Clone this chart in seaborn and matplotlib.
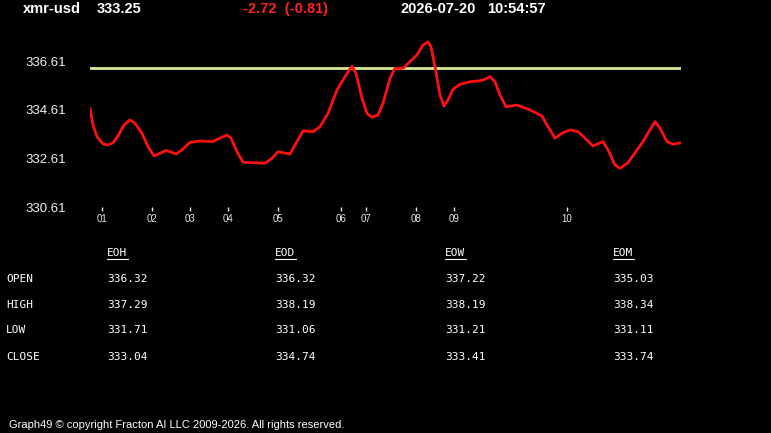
import pandas as pd
import matplotlib.pyplot as plt
import seaborn as sns
from matplotlib.lines import Line2D

# price trace (minutes since start, price)
minutes = [0, 3, 7, 13, 18, 23, 28, 34, 40, 45, 52, 58, 64, 70, 76, 81, 86, 92, 100, 110,
           123, 130, 137, 141, 147, 153, 163, 175, 182, 188, 193, 200, 207, 213, 223, 230,
           238, 247, 255, 262, 266, 272, 277, 282, 288, 293, 300, 305, 313, 327, 333, 338,
           341, 345, 350, 354, 358, 363, 370, 380, 390, 395, 400, 405, 410, 416, 427, 440,
           452, 458, 465, 472, 480, 488, 495, 503, 513, 518, 525, 530, 538, 553, 565, 570,
           577, 583, 591]
prices = [334.67, 333.98, 333.50, 333.20, 333.16, 333.25, 333.53, 333.98, 334.19, 334.05,
          333.64, 333.09, 332.71, 332.82, 332.93, 332.87, 332.79, 332.96, 333.27, 333.32,
          333.30, 333.44, 333.57, 333.44, 332.88, 332.45, 332.43, 332.41, 332.61, 332.88,
          332.84, 332.79, 333.30, 333.74, 333.71, 333.91, 334.46, 335.42, 335.97, 336.40,
          336.10, 335.08, 334.46, 334.30, 334.39, 334.87, 335.90, 336.31, 336.31, 336.86,
          337.27, 337.40, 337.20, 336.38, 335.21, 334.76, 335.01, 335.45, 335.65, 335.76,
          335.80, 335.86, 335.97, 335.76, 335.21, 334.73, 334.80, 334.60, 334.35, 333.91,
          333.44, 333.64, 333.78, 333.71, 333.44, 333.12, 333.30, 332.96, 332.34, 332.20,
          332.43, 333.30, 334.12, 333.85, 333.30, 333.19, 333.25]
open_level = 336.32

tick_pos = [12, 62, 100, 138, 188, 251, 276, 326, 364, 477]
tick_labels = ['01', '02', '03', '04', '05', '06', '07', '08', '09', '10']
y_ticks = [330.61, 332.61, 334.61, 336.61]

# summary table
periods = ['EOH', 'EOD', 'EOW', 'EOM']
rows = ['OPEN', 'HIGH', 'LOW', 'CLOSE']
table_vals = {
    'EOH': [336.32, 337.29, 331.71, 333.04],
    'EOD': [336.32, 338.19, 331.06, 334.74],
    'EOW': [337.22, 338.19, 331.21, 333.41],
    'EOM': [335.03, 338.34, 331.11, 333.74],
}

sns.set_style('dark', {'axes.facecolor': 'black', 'figure.facecolor': 'black'})
plt.rcParams['font.family'] = ['Liberation Sans', 'DejaVu Sans']

W, H = 771, 433
fig = plt.figure(figsize=(W / 100, H / 100), dpi=100)
ax = fig.add_axes([90 / W, 1 - 207 / H, 591 / W, (207 - 35) / H])

df = pd.DataFrame({'minute': minutes, 'price': prices})
ax.axhline(open_level, color='#d8e890', lw=2)
line = sns.lineplot(data=df, x='minute', y='price', ax=ax, color='#ff1010', lw=2)
line.lines[-1].set_solid_joinstyle('round')

ax.set_xlim(0, 591)
ax.set_ylim(330.61, 337.68)
ax.set_xticks(tick_pos)
ax.set_xticklabels(tick_labels)
ax.set_yticks(y_ticks)
ax.set_yticklabels([f'{v:.2f}' for v in y_ticks])
ax.tick_params(axis='x', colors='#e8e8e8', length=3, width=1, direction='out', pad=2,
               labelsize=7, bottom=True)
ax.tick_params(axis='y', colors='#f0f0f0', length=0, pad=17, labelsize=9.5)
ax.set_xlabel('')
ax.set_ylabel('')
ax.grid(False)
for s in ax.spines.values():
    s.set_visible(False)

# header
hdr = dict(fontsize=10.5, fontweight='bold', va='center')
fig.text(23 / W, 1 - 9 / H, 'xmr-usd', color='white', **hdr)
fig.text(97 / W, 1 - 9 / H, f'{prices[-1]:.2f}', color='white', **hdr)
fig.text(243 / W, 1 - 9 / H, '-2.72  (-0.81)', color='#ff2020', **hdr)
fig.text(400 / W, 1 - 9 / H, '2026-07-20', color='white', **hdr)
fig.text(487 / W, 1 - 9 / H, '10:54:57', color='white', **hdr)

# table
col_x = [107, 275, 445, 613]
row_y = [279, 305, 330, 357]
mono = dict(color='white', fontsize=8, family='DejaVu Sans Mono', va='center')
for cx, p in zip(col_x, periods):
    fig.text(cx / W, 1 - 253 / H, p, **mono)
    fig.add_artist(Line2D([cx / W, (cx + 21) / W], [1 - 259 / H] * 2, color='white', lw=0.8))
    for ry, v in zip(row_y, table_vals[p]):
        fig.text(cx / W, 1 - ry / H, f'{v:.2f}', **mono)
for ry, r in zip(row_y, rows):
    fig.text(6 / W, 1 - ry / H, r, **mono)

fig.text(9 / W, 1 - 425 / H, 'Graph49 \u00a9 copyright Fracton AI LLC 2009-2026. All rights reserved.',
         color='white', fontsize=8, va='center')

fig.savefig('out.png', dpi=100, facecolor='black')
